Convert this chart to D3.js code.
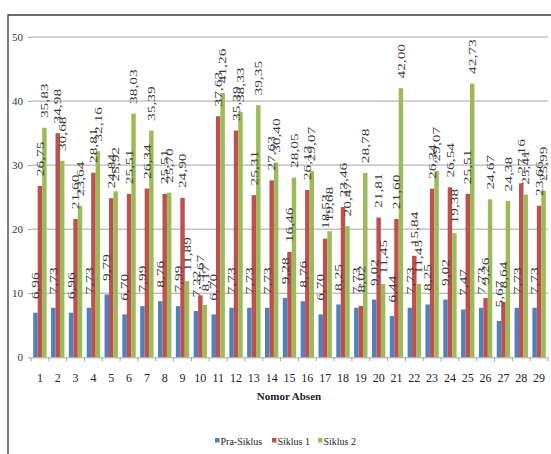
<!DOCTYPE html>
<html>
<head>
<meta charset="utf-8">
<script src="https://cdn.jsdelivr.net/npm/d3@7"></script>
<style>
  html, body { margin: 0; padding: 0; background: #fff; }
  svg { display: block; }
</style>
</head>
<body>
<svg id="chart" width="551" height="454"></svg>
<script>
// Student numbers (Nomor Absen)
const students = d3.range(1, 30).map(String);
const seriesNames = ["Pra-Siklus", "Siklus 1", "Siklus 2"];
const seriesColors = ["#4F81BD", "#C0504D", "#9BBB59"];

// Scores per student for each cycle
const praSiklus = [6.96, 7.73, 6.96, 7.73, 9.79, 6.70, 7.99, 8.76, 7.99, 7.22,
                   6.70, 7.73, 7.73, 7.73, 9.28, 8.76, 6.70, 8.25, 7.73, 9.02,
                   6.44, 7.73, 8.25, 9.02, 7.47, 7.73, 5.67, 7.73, 7.73];
const siklus1 = [26.75, 34.98, 21.60, 28.81, 24.84, 25.51, 26.34, 25.51, 24.90, 9.67,
                 37.63, 35.39, 25.31, 27.63, 16.46, 26.13, 18.53, 23.46, 8.02, 21.81,
                 21.60, 15.84, 26.34, 26.54, 25.51, 9.26, 8.64, 27.16, 23.66];
const siklus2 = [35.83, 30.68, 23.64, 32.16, 25.92, 38.03, 35.39, 25.70, 11.89, 8.17,
                 41.26, 38.33, 39.35, 30.40, 28.05, 29.07, 19.68, 20.47, 28.78, 11.45,
                 42.00, 11.45, 29.07, 19.38, 42.73, 24.67, 24.38, 25.41, 25.99];
const yTicks = [0, 10, 20, 30, 40, 50];

const FONT = "'Liberation Serif', 'Times New Roman', serif";
const series = [praSiklus, siklus1, siklus2];
const fmt = v => d3.format(".2f")(v).replace(".", ",");

const svg = d3.select("#chart").attr("font-family", FONT);
const plot = { left: 31, right: 548, top: 37, bottom: 357.3 };

const x = d3.scaleBand().domain(students).range([plot.left, plot.right]).padding(0);
const barW = x.bandwidth() * 0.25;
const xs = d3.scaleBand().domain(seriesNames).range([0, barW * 3]);
const groupOffset = (x.bandwidth() - barW * 3) / 2;
const y = d3.scaleLinear().domain([0, 50]).range([plot.bottom, plot.top]);

// Outer frame (top and left edges)
svg.append("path")
  .attr("d", `M8,454 L8,15 L551,15`)
  .attr("fill", "none").attr("stroke", "#3a3a3a").attr("stroke-width", 1.3);

// Horizontal gridlines
svg.append("g").selectAll("line").data(yTicks.filter(t => t > 0)).join("line")
  .attr("x1", plot.left).attr("x2", plot.right)
  .attr("y1", d => y(d)).attr("y2", d => y(d))
  .attr("stroke", "#a6a6a6").attr("stroke-width", 1);

// Y axis
const yAxis = svg.append("g").attr("transform", `translate(${plot.left},0)`)
  .call(d3.axisLeft(y).tickValues(yTicks).tickSize(3).tickPadding(5))
  .attr("font-family", FONT);
yAxis.select(".domain").remove();
yAxis.selectAll("line").attr("stroke", "#a6a6a6");
yAxis.selectAll("text").attr("font-size", 11).attr("fill", "#333");

// Bars
const groups = svg.append("g").selectAll("g").data(students).join("g")
  .attr("transform", d => `translate(${x(d) + groupOffset},0)`);

groups.selectAll("rect")
  .data((d, i) => series.map((s, k) => ({ name: seriesNames[k], k, v: s[i] })))
  .join("rect")
  .attr("x", d => xs(d.name))
  .attr("width", barW)
  .attr("y", d => y(d.v))
  .attr("height", d => y(0) - y(d.v))
  .attr("fill", d => seriesColors[d.k]);

// X axis
const xAxis = svg.append("g").attr("transform", `translate(0,${plot.bottom})`)
  .call(d3.axisBottom(x).tickSize(0).tickPadding(16))
  .attr("font-family", FONT);
xAxis.select(".domain").attr("stroke", "#a6a6a6");
xAxis.selectAll("text").attr("font-size", 12).attr("fill", "#222");
// Tick marks at category boundaries
xAxis.append("g").selectAll("line").data(d3.range(students.length + 1)).join("line")
  .attr("x1", i => plot.left + i * x.bandwidth())
  .attr("x2", i => plot.left + i * x.bandwidth())
  .attr("y1", 0).attr("y2", 4)
  .attr("stroke", "#a6a6a6");

// Value labels, rotated above each bar
groups.selectAll("text.val")
  .data((d, i) => series.map((s, k) => ({ name: seriesNames[k], k, v: s[i] })))
  .join("text")
  .attr("class", "val")
  .attr("transform", d => `translate(${xs(d.name) + barW / 2},${y(d.v) - 27}) rotate(-90) scale(1.4,1)`)
  .attr("text-anchor", "middle")
  .attr("dominant-baseline", "central")
  .attr("font-family", FONT)
  .attr("font-size", 11)
  .attr("fill", "#3a3a3a")
  .text(d => fmt(d.v));

// Axis title
svg.append("text")
  .attr("x", 289).attr("y", 400)
  .attr("text-anchor", "middle")
  .attr("font-family", FONT)
  .attr("font-size", 11).attr("font-weight", "bold").attr("fill", "#222")
  .text("Nomor Absen");

// Legend
const legendX = [215, 272, 318];
const legend = svg.append("g").selectAll("g").data(seriesNames).join("g")
  .attr("transform", (d, i) => `translate(${legendX[i]},438)`);
legend.append("rect").attr("width", 4.5).attr("height", 4.5)
  .attr("fill", (d, i) => seriesColors[i]);
legend.append("text").attr("x", 5.5).attr("y", 7)
  .attr("font-family", FONT)
  .attr("font-size", 10).attr("fill", "#222")
  .text(d => d);
</script>
</body>
</html>
